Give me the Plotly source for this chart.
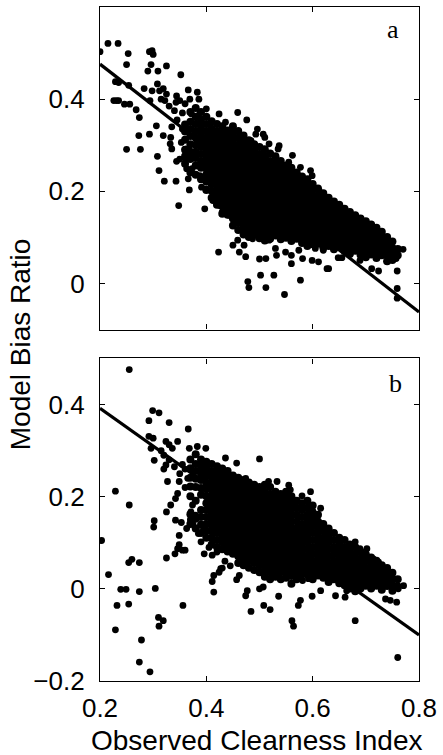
import plotly.graph_objects as go

# ---------------- Panel a : scattered points (Observed clearness index, model bias ratio)
a_x = [0.200, 0.215, 0.234, 0.253, 0.250, 0.293, 0.298, 0.300, 0.296, 0.290, 0.309, 0.325, 0.352,
       0.229, 0.235, 0.254, 0.226, 0.231, 0.235, 0.246, 0.256, 0.268, 0.274, 0.283, 0.298, 0.294,
       0.308, 0.312, 0.319, 0.325, 0.322, 0.306, 0.293, 0.273, 0.250, 0.276, 0.308, 0.311, 0.321,
       0.343, 0.319, 0.333, 0.332, 0.335, 0.344, 0.348, 0.368, 0.366, 0.363, 0.397, 0.412, 0.423,
       0.425, 0.430, 0.450, 0.459, 0.462, 0.471, 0.474, 0.478, 0.480, 0.500, 0.502, 0.512, 0.512,
       0.527, 0.532, 0.547, 0.560, 0.577, 0.581, 0.599, 0.611, 0.627, 0.630, 0.648, 0.655, 0.689,
       0.711, 0.724, 0.759, 0.759, 0.759, 0.770,
       0.459, 0.476, 0.424, 0.436, 0.383, 0.386, 0.366, 0.369, 0.344, 0.350, 0.343, 0.400, 0.388,
       0.381, 0.496, 0.507, 0.510, 0.518, 0.537, 0.535, 0.484, 0.493, 0.562, 0.512, 0.526, 0.555,
       0.577, 0.596, 0.599, 0.612, 0.614, 0.630, 0.636, 0.655, 0.661, 0.676, 0.686, 0.698, 0.711,
       0.724, 0.732, 0.742, 0.751, 0.757, 0.745, 0.736, 0.704, 0.692, 0.667, 0.652, 0.636, 0.620,
       0.605, 0.589, 0.574, 0.560, 0.549, 0.530, 0.518, 0.499, 0.487, 0.475, 0.468, 0.450, 0.443,
       0.437, 0.425, 0.412, 0.400, 0.391, 0.388, 0.373, 0.370, 0.363, 0.353, 0.350,
       0.315, 0.330, 0.340, 0.355, 0.345, 0.360, 0.372, 0.355, 0.335]
a_y = [0.503, 0.521, 0.521, 0.499, 0.475, 0.503, 0.505, 0.497, 0.475, 0.461, 0.461, 0.472, 0.453,
       0.438, 0.436, 0.430, 0.397, 0.397, 0.397, 0.389, 0.389, 0.377, 0.360, 0.423, 0.418, 0.397,
       0.433, 0.418, 0.423, 0.411, 0.397, 0.342, 0.324, 0.321, 0.291, 0.291, 0.276, 0.245, 0.222,
       0.222, 0.321, 0.317, 0.303, 0.292, 0.265, 0.169, 0.203, 0.227, 0.249, 0.162, 0.180, 0.068,
       0.169, 0.155, 0.083, 0.094, 0.068, 0.083, 0.058, 0.004, -0.009, 0.053, 0.018, 0.054, -0.009,
       0.018, 0.061, -0.024, 0.043, 0.007, 0.054, 0.050, 0.047, 0.032, 0.032, 0.056, 0.056, 0.050,
       0.032, 0.027, -0.011, -0.032, 0.027, 0.074,
       0.371, 0.355, 0.368, 0.350, 0.415, 0.400, 0.420, 0.400, 0.407, 0.397, 0.393, 0.379, 0.371,
       0.360, 0.335, 0.324, 0.317, 0.303, 0.299, 0.292, 0.310, 0.324, 0.278, 0.270, 0.256, 0.263,
       0.252, 0.245, 0.234, 0.202, 0.191, 0.180, 0.169, 0.162, 0.148, 0.141, 0.133, 0.126, 0.119,
       0.105, 0.094, 0.083, 0.068, 0.054, 0.061, 0.072, 0.076, 0.090, 0.105, 0.112, 0.090, 0.072,
       0.076, 0.090, 0.072, 0.061, 0.068, 0.076, 0.094, 0.105, 0.097, 0.112, 0.133, 0.141, 0.148,
       0.162, 0.180, 0.198, 0.205, 0.209, 0.234, 0.249, 0.278, 0.292, 0.306, 0.270,
       0.400, 0.385, 0.375, 0.370, 0.355, 0.390, 0.368, 0.335, 0.340]

# Panel a : dense core, read column by column (x of column, y values seen in it)
a_core_x = [0.36, 0.37, 0.38, 0.39, 0.40, 0.41, 0.42, 0.43, 0.44, 0.45, 0.46, 0.47, 0.48, 0.49,
            0.50, 0.51, 0.52, 0.53, 0.54, 0.55, 0.56, 0.57, 0.58, 0.59, 0.60, 0.61, 0.62, 0.63,
            0.64, 0.65, 0.66, 0.67, 0.68, 0.69, 0.70, 0.71, 0.72, 0.73, 0.74, 0.75, 0.76]
a_core_y = [
    [0.345, 0.33, 0.312, 0.29, 0.276, 0.26],
    [0.372, 0.351, 0.335, 0.32, 0.302, 0.286, 0.27, 0.241],
    [0.381, 0.362, 0.346, 0.331, 0.316, 0.301, 0.286, 0.272, 0.256, 0.236],
    [0.372, 0.356, 0.341, 0.326, 0.311, 0.296, 0.281, 0.266, 0.251, 0.226],
    [0.362, 0.346, 0.331, 0.316, 0.302, 0.288, 0.276, 0.262, 0.249, 0.236, 0.221, 0.203],
    [0.352, 0.336, 0.321, 0.308, 0.294, 0.281, 0.268, 0.256, 0.243, 0.229, 0.216, 0.201, 0.186],
    [0.346, 0.331, 0.317, 0.303, 0.291, 0.277, 0.264, 0.251, 0.238, 0.225, 0.212, 0.199, 0.186, 0.171],
    [0.341, 0.326, 0.312, 0.299, 0.286, 0.273, 0.261, 0.247, 0.234, 0.221, 0.208, 0.196, 0.182, 0.168, 0.151],
    [0.332, 0.318, 0.305, 0.292, 0.279, 0.266, 0.253, 0.241, 0.227, 0.214, 0.201, 0.188, 0.175, 0.162, 0.149],
    [0.341, 0.326, 0.311, 0.297, 0.284, 0.271, 0.258, 0.245, 0.232, 0.219, 0.206, 0.193, 0.181, 0.167, 0.154, 0.141, 0.126],
    [0.331, 0.316, 0.301, 0.287, 0.274, 0.261, 0.248, 0.235, 0.222, 0.209, 0.196, 0.183, 0.171, 0.157, 0.144, 0.131, 0.116],
    [0.321, 0.306, 0.291, 0.277, 0.264, 0.251, 0.238, 0.225, 0.212, 0.199, 0.186, 0.173, 0.161, 0.147, 0.134, 0.121, 0.106],
    [0.311, 0.297, 0.283, 0.271, 0.257, 0.244, 0.231, 0.218, 0.205, 0.192, 0.179, 0.166, 0.153, 0.141, 0.127, 0.114, 0.101],
    [0.302, 0.287, 0.274, 0.261, 0.248, 0.235, 0.222, 0.209, 0.196, 0.183, 0.171, 0.157, 0.144, 0.131, 0.118, 0.106],
    [0.296, 0.281, 0.267, 0.254, 0.241, 0.228, 0.215, 0.202, 0.189, 0.176, 0.163, 0.151, 0.137, 0.124, 0.111, 0.098],
    [0.291, 0.276, 0.262, 0.249, 0.236, 0.223, 0.211, 0.197, 0.184, 0.171, 0.158, 0.145, 0.132, 0.119, 0.106, 0.093],
    [0.282, 0.266, 0.253, 0.241, 0.227, 0.214, 0.201, 0.188, 0.175, 0.162, 0.149, 0.136, 0.123, 0.111, 0.097],
    [0.276, 0.261, 0.247, 0.234, 0.221, 0.208, 0.195, 0.182, 0.169, 0.156, 0.143, 0.131, 0.117, 0.104],
    [0.266, 0.252, 0.239, 0.226, 0.213, 0.201, 0.187, 0.174, 0.161, 0.148, 0.135, 0.122, 0.109, 0.096],
    [0.256, 0.242, 0.229, 0.216, 0.203, 0.191, 0.177, 0.164, 0.151, 0.138, 0.125, 0.112, 0.099],
    [0.251, 0.236, 0.223, 0.211, 0.197, 0.184, 0.171, 0.158, 0.145, 0.132, 0.119, 0.106, 0.092],
    [0.241, 0.227, 0.214, 0.201, 0.188, 0.175, 0.162, 0.149, 0.136, 0.123, 0.111, 0.097],
    [0.232, 0.219, 0.206, 0.193, 0.181, 0.167, 0.154, 0.141, 0.128, 0.115, 0.102, 0.088],
    [0.226, 0.212, 0.199, 0.186, 0.173, 0.161, 0.147, 0.134, 0.121, 0.108, 0.095, 0.081],
    [0.216, 0.202, 0.189, 0.176, 0.163, 0.151, 0.137, 0.124, 0.111, 0.098, 0.085],
    [0.206, 0.191, 0.177, 0.164, 0.151, 0.138, 0.125, 0.112, 0.099, 0.086],
    [0.196, 0.182, 0.169, 0.156, 0.143, 0.131, 0.117, 0.104, 0.091, 0.078],
    [0.186, 0.172, 0.159, 0.146, 0.133, 0.121, 0.107, 0.094, 0.081],
    [0.178, 0.165, 0.152, 0.139, 0.126, 0.113, 0.101, 0.087, 0.074],
    [0.171, 0.157, 0.144, 0.131, 0.118, 0.105, 0.092, 0.079],
    [0.162, 0.149, 0.136, 0.123, 0.111, 0.097, 0.084, 0.071],
    [0.155, 0.142, 0.129, 0.116, 0.103, 0.091, 0.077, 0.064],
    [0.148, 0.135, 0.122, 0.109, 0.096, 0.083, 0.071],
    [0.141, 0.127, 0.114, 0.101, 0.088, 0.075, 0.062],
    [0.135, 0.122, 0.109, 0.096, 0.083, 0.071, 0.057],
    [0.128, 0.115, 0.102, 0.089, 0.076, 0.063],
    [0.121, 0.107, 0.094, 0.081, 0.068, 0.055],
    [0.112, 0.099, 0.086, 0.073, 0.061],
    [0.101, 0.087, 0.074, 0.061, 0.048],
    [0.091, 0.077, 0.064, 0.051],
    [0.075, 0.061]]

# ---------------- Panel b : scattered points
b_x = [0.255, 0.203, 0.216, 0.229, 0.255, 0.229, 0.232, 0.239, 0.249, 0.254, 0.254, 0.260, 0.274,
       0.274, 0.274, 0.278, 0.294, 0.304, 0.310, 0.319, 0.311, 0.302, 0.301, 0.325, 0.299, 0.292,
       0.311, 0.330, 0.366, 0.292, 0.300, 0.296, 0.302, 0.324, 0.330, 0.336, 0.346, 0.320, 0.324,
       0.327, 0.325, 0.333, 0.342, 0.346, 0.349, 0.342, 0.353, 0.363, 0.349, 0.349, 0.346, 0.341,
       0.355, 0.360, 0.356, 0.371, 0.374, 0.368, 0.383, 0.399, 0.390, 0.396, 0.411, 0.414, 0.411,
       0.414, 0.424, 0.427, 0.436, 0.457, 0.500, 0.457, 0.462, 0.474, 0.477, 0.484, 0.508, 0.520,
       0.500, 0.507, 0.536, 0.561, 0.564, 0.573, 0.577, 0.599, 0.615, 0.581, 0.592, 0.680, 0.760,
       0.758, 0.746, 0.737, 0.771, 0.761, 0.643, 0.661, 0.664, 0.680, 0.689, 0.702, 0.714, 0.724,
       0.736, 0.746, 0.615, 0.630, 0.621, 0.615, 0.599, 0.596, 0.580, 0.599, 0.599, 0.580, 0.583,
       0.555, 0.558, 0.533, 0.517, 0.474, 0.464,
       0.315, 0.320, 0.330, 0.340, 0.350, 0.355, 0.360, 0.365, 0.360, 0.375, 0.385, 0.395, 0.380,
       0.370, 0.405, 0.420, 0.435, 0.445, 0.430]
b_y = [0.476, 0.105, 0.031, 0.212, 0.182, -0.089, -0.036, -0.001, -0.001, -0.033, 0.057, 0.064, 0.057,
       -0.006, -0.159, -0.111, -0.180, 0.001, -0.062, -0.069, -0.081, 0.148, 0.134, 0.067, 0.387, 0.365,
       0.382, 0.361, 0.347, 0.331, 0.327, 0.305, 0.279, 0.320, 0.313, 0.305, 0.320, 0.260, 0.269,
       0.233, 0.167, 0.182, 0.196, 0.207, 0.233, 0.149, 0.144, 0.131, 0.116, 0.096, 0.087, 0.076,
       0.084, 0.084, -0.036, 0.167, 0.182, 0.305, 0.309, 0.305, 0.102, 0.076, 0.073, -0.007, 0.016,
       0.029, 0.036, 0.044, 0.284, 0.273, 0.282, 0.020, 0.029, -0.015, -0.004, -0.049, -0.036, -0.045,
       0.000, 0.004, -0.016, -0.069, -0.081, -0.036, -0.025, -0.016, -0.004, 0.018, 0.022, -0.069, -0.149,
       -0.029, -0.025, -0.022, 0.007, 0.000, -0.015, -0.018, -0.004, 0.102, 0.087, 0.087, 0.065, 0.058,
       0.036, 0.029, 0.142, 0.124, 0.098, 0.175, 0.171, 0.211, 0.202, 0.145, 0.138, 0.116, 0.102,
       0.225, 0.215, 0.233, 0.233, 0.240, 0.233,
       0.300, 0.290, 0.280, 0.265, 0.250, 0.270, 0.260, 0.240, 0.220, 0.140, 0.120, 0.130, 0.160,
       0.150, 0.090, 0.080, 0.060, 0.050, 0.045]

# Panel b : dense core, read column by column
b_core_x = [0.37, 0.38, 0.39, 0.40, 0.41, 0.42, 0.43, 0.44, 0.45, 0.46, 0.47, 0.48, 0.49, 0.50,
            0.51, 0.52, 0.53, 0.54, 0.55, 0.56, 0.57, 0.58, 0.59, 0.60, 0.61, 0.62, 0.63, 0.64,
            0.65, 0.66, 0.67, 0.68, 0.69, 0.70, 0.71, 0.72, 0.73, 0.74, 0.75, 0.76]
b_core_y = [
    [0.281, 0.262, 0.241, 0.222, 0.201, 0.162, 0.141],
    [0.292, 0.271, 0.256, 0.239, 0.221, 0.191, 0.152, 0.131],
    [0.281, 0.266, 0.251, 0.236, 0.219, 0.204, 0.171, 0.156, 0.139, 0.121],
    [0.276, 0.261, 0.246, 0.231, 0.216, 0.201, 0.186, 0.171, 0.156, 0.141, 0.126, 0.111],
    [0.271, 0.256, 0.242, 0.229, 0.216, 0.203, 0.191, 0.177, 0.164, 0.151, 0.138, 0.125, 0.111, 0.096],
    [0.266, 0.251, 0.237, 0.224, 0.211, 0.198, 0.185, 0.172, 0.159, 0.146, 0.133, 0.121, 0.106, 0.091],
    [0.261, 0.246, 0.232, 0.219, 0.206, 0.193, 0.181, 0.167, 0.154, 0.141, 0.128, 0.115, 0.101, 0.086],
    [0.256, 0.241, 0.227, 0.214, 0.201, 0.188, 0.175, 0.162, 0.149, 0.136, 0.123, 0.111, 0.096, 0.081],
    [0.246, 0.232, 0.219, 0.206, 0.193, 0.181, 0.167, 0.154, 0.141, 0.128, 0.115, 0.102, 0.089, 0.076],
    [0.241, 0.227, 0.214, 0.201, 0.188, 0.175, 0.162, 0.149, 0.136, 0.123, 0.111, 0.097, 0.084, 0.071, 0.056],
    [0.236, 0.222, 0.209, 0.196, 0.183, 0.171, 0.157, 0.144, 0.131, 0.118, 0.105, 0.092, 0.079, 0.066, 0.051],
    [0.231, 0.217, 0.204, 0.191, 0.178, 0.165, 0.152, 0.139, 0.126, 0.113, 0.101, 0.087, 0.074, 0.061, 0.046],
    [0.226, 0.212, 0.199, 0.186, 0.173, 0.161, 0.147, 0.134, 0.121, 0.108, 0.095, 0.082, 0.069, 0.056, 0.041],
    [0.221, 0.207, 0.194, 0.181, 0.168, 0.155, 0.142, 0.129, 0.116, 0.103, 0.091, 0.077, 0.064, 0.051, 0.036],
    [0.226, 0.211, 0.197, 0.184, 0.171, 0.158, 0.145, 0.132, 0.119, 0.106, 0.093, 0.081, 0.067, 0.054, 0.041, 0.026],
    [0.221, 0.206, 0.192, 0.179, 0.166, 0.153, 0.141, 0.127, 0.114, 0.101, 0.088, 0.075, 0.062, 0.049, 0.036, 0.021],
    [0.211, 0.197, 0.184, 0.171, 0.158, 0.145, 0.132, 0.119, 0.106, 0.093, 0.081, 0.067, 0.054, 0.041, 0.026],
    [0.206, 0.192, 0.179, 0.166, 0.153, 0.141, 0.127, 0.114, 0.101, 0.088, 0.075, 0.062, 0.049, 0.036, 0.021],
    [0.211, 0.196, 0.182, 0.169, 0.156, 0.143, 0.131, 0.117, 0.104, 0.091, 0.078, 0.065, 0.052, 0.038, 0.024],
    [0.201, 0.186, 0.172, 0.159, 0.146, 0.133, 0.121, 0.107, 0.094, 0.081, 0.068, 0.055, 0.042, 0.028, 0.011],
    [0.191, 0.176, 0.161, 0.146, 0.131, 0.116, 0.101, 0.087, 0.074, 0.061, 0.048, 0.035, 0.021],
    [0.186, 0.171, 0.156, 0.141, 0.126, 0.111, 0.096, 0.082, 0.069, 0.056, 0.043, 0.031],
    [0.191, 0.176, 0.161, 0.146, 0.131, 0.116, 0.101, 0.086, 0.071, 0.057, 0.044, 0.031],
    [0.181, 0.166, 0.151, 0.136, 0.121, 0.106, 0.091, 0.076, 0.061, 0.047, 0.034, 0.021],
    [0.161, 0.146, 0.131, 0.116, 0.101, 0.086, 0.071, 0.056, 0.042, 0.029],
    [0.141, 0.126, 0.111, 0.096, 0.081, 0.066, 0.051, 0.037, 0.024],
    [0.131, 0.116, 0.101, 0.086, 0.071, 0.056, 0.042, 0.029, 0.015],
    [0.121, 0.106, 0.091, 0.076, 0.061, 0.047, 0.034, 0.021],
    [0.111, 0.096, 0.081, 0.066, 0.052, 0.039, 0.026, 0.012],
    [0.106, 0.091, 0.076, 0.062, 0.048, 0.035, 0.022, 0.008],
    [0.096, 0.081, 0.067, 0.053, 0.041, 0.027, 0.014, 0.001],
    [0.091, 0.076, 0.062, 0.048, 0.035, 0.022, 0.009, -0.005],
    [0.081, 0.066, 0.052, 0.039, 0.026, 0.013, 0.001],
    [0.075, 0.061, 0.046, 0.033, 0.021, 0.007],
    [0.068, 0.054, 0.041, 0.027, 0.014, 0.001],
    [0.061, 0.046, 0.033, 0.021, 0.007],
    [0.051, 0.037, 0.024, 0.011, -0.002],
    [0.045, 0.032, 0.019, 0.006],
    [0.035, 0.022, 0.009, -0.004],
    [0.021, 0.005]]

# Least-squares fit lines (values at the ends of the x range)
fit_x = [0.2, 0.8]
fit_a_y = [0.476, -0.062]
fit_b_y = [0.392, -0.100]

x_ticks = [0.2, 0.4, 0.6, 0.8]
x_tick_text = ["0.2", "0.4", "0.6", "0.8"]
ya_ticks = [0, 0.2, 0.4]
ya_tick_text = ["0", "0.2", "0.4"]
yb_ticks = [-0.2, 0, 0.2, 0.4]
yb_tick_text = ["\u22120.2", "0", "0.2", "0.4"]


def expand(cols_x, cols_y):
    xs, ys = [], []
    for cx, col in zip(cols_x, cols_y):
        for v in col:
            xs.append(cx)
            ys.append(v)
    return xs, ys


acx, acy = expand(a_core_x, a_core_y)
bcx, bcy = expand(b_core_x, b_core_y)

mk_core = dict(size=8, color="black")
mk = dict(size=6.8, color="black")
line_style = dict(color="black", width=3.2)

fig = go.Figure()
fig.add_trace(go.Scatter(x=acx, y=acy, mode="markers", marker=mk_core,
                         xaxis="x", yaxis="y", showlegend=False, hoverinfo="skip"))
fig.add_trace(go.Scatter(x=a_x, y=a_y, mode="markers", marker=mk,
                         xaxis="x", yaxis="y", showlegend=False, hoverinfo="skip"))
fig.add_trace(go.Scatter(x=fit_x, y=fit_a_y, mode="lines", line=line_style,
                         xaxis="x", yaxis="y", showlegend=False))
fig.add_trace(go.Scatter(x=bcx, y=bcy, mode="markers", marker=mk_core,
                         xaxis="x2", yaxis="y2", showlegend=False, hoverinfo="skip"))
fig.add_trace(go.Scatter(x=b_x, y=b_y, mode="markers", marker=mk,
                         xaxis="x2", yaxis="y2", showlegend=False, hoverinfo="skip"))
fig.add_trace(go.Scatter(x=fit_x, y=fit_b_y, mode="lines", line=line_style,
                         xaxis="x2", yaxis="y2", showlegend=False))

sans = "Liberation Sans, Arial, sans-serif"
tickfont = dict(family=sans, size=26, color="black")
common = dict(showline=True, linecolor="black", linewidth=1.3, mirror="ticks",
              ticks="inside", ticklen=5, tickwidth=1, tickcolor="black",
              showgrid=False, zeroline=False, tickfont=tickfont)

fig.update_layout(
    width=443, height=755,
    margin=dict(l=100, r=21, t=6, b=74),
    paper_bgcolor="white", plot_bgcolor="white",
    xaxis=dict(domain=[0, 1], range=[0.2, 0.8], anchor="y", tickvals=x_ticks,
               showticklabels=False, **common),
    yaxis=dict(domain=[0.5215, 1], range=[-0.1, 0.6], anchor="x", tickvals=ya_ticks,
               ticktext=ya_tick_text, ticklabelstandoff=9, **common),
    xaxis2=dict(domain=[0, 1], range=[0.2, 0.8], anchor="y2", tickvals=x_ticks,
                ticktext=x_tick_text, ticklabelstandoff=4, **common),
    yaxis2=dict(domain=[0, 0.4785], range=[-0.2, 0.5], anchor="x2", tickvals=yb_ticks,
                ticktext=yb_tick_text, ticklabelstandoff=9, **common),
    annotations=[
        dict(text="Model Bias Ratio", xref="paper", yref="paper", x=-0.25, y=0.5,
             xanchor="center", yanchor="middle", textangle=-90, showarrow=False,
             font=dict(family=sans, size=28, color="black")),
        dict(text="Observed Clearness Index", xref="paper", yref="paper", x=0.4907, y=-0.0889,
             xanchor="center", yanchor="middle", showarrow=False,
             font=dict(family=sans, size=28, color="black")),
        dict(text="a", xref="paper", yref="paper", x=0.919, y=0.9665,
             xanchor="center", yanchor="middle", showarrow=False,
             font=dict(family="Liberation Serif, Times New Roman, serif", size=26, color="black")),
        dict(text="b", xref="paper", yref="paper", x=0.925, y=0.4415,
             xanchor="center", yanchor="middle", showarrow=False,
             font=dict(family="Liberation Serif, Times New Roman, serif", size=26, color="black")),
    ],
)

fig.write_html(
    "out.html",
    config={"displayModeBar": False},
    post_script="document.documentElement.style.margin='0';document.body.style.margin='0';"
                "document.body.style.overflow='hidden';",
)
